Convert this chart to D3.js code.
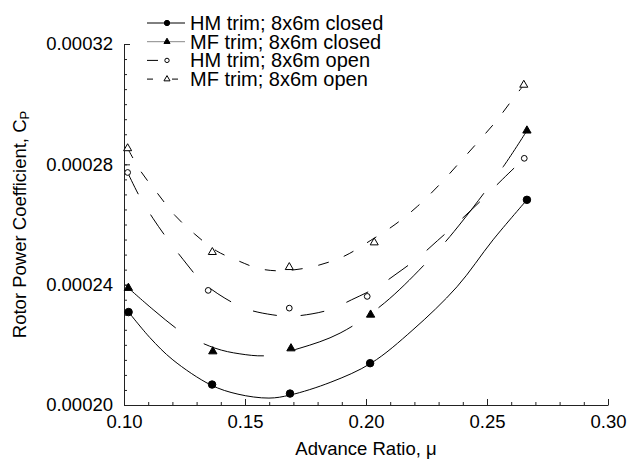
<!DOCTYPE html>
<html>
<head>
<meta charset="utf-8">
<title>Rotor power coefficient</title>
<script src="https://cdn.jsdelivr.net/npm/d3@7"></script>
<style>
    body { margin: 0; background: #fff; }
    svg text { font-family: "Liberation Sans", Arial, Helvetica, sans-serif; fill: #000; }
    .axis path, .axis line { stroke: #222; stroke-width: 1px; }
    .curve { fill: none; stroke: #000; stroke-width: 1px; }
</style>
</head>
<body>
<script>
// measured points (advance ratio, Cp)
var hmClosedMu = [0.1019, 0.1364, 0.1686, 0.2017, 0.2665];
var hmClosedCp = [0.0002309, 0.0002068, 0.0002038, 0.0002139, 0.0002682];
var mfClosedMu = [0.1018, 0.1367, 0.1690, 0.2019, 0.2665];
var mfClosedCp = [0.0002389, 0.0002178, 0.0002188, 0.0002300, 0.0002912];
var hmOpenMu = [0.1015, 0.1348, 0.1683, 0.2005, 0.2654];
var hmOpenCp = [0.0002773, 0.0002381, 0.0002322, 0.0002361, 0.0002820];
var mfOpenMu = [0.1015, 0.1365, 0.1683, 0.2034, 0.2652];
var mfOpenCp = [0.0002853, 0.0002508, 0.0002458, 0.0002540, 0.0003064];

// curve fits
var hmClosedFitMu = [0.1019, 0.1107, 0.1202, 0.1358, 0.1471, 0.1599, 0.1686, 0.1855, 0.2021, 0.2194, 0.2376, 0.2525, 0.2665];
var hmClosedFitCp = [0.0002309, 0.0002224, 0.0002150, 0.0002067, 0.0002036, 0.0002023, 0.0002033, 0.0002076, 0.0002139, 0.0002250, 0.0002393, 0.0002549, 0.0002682];
var mfClosedFitMu = [0.1018, 0.1128, 0.1245, 0.1376, 0.1479, 0.1590, 0.1727, 0.1893, 0.2076, 0.2292, 0.2402, 0.2567, 0.2665];
var mfClosedFitCp = [0.0002389, 0.0002312, 0.0002239, 0.0002189, 0.0002170, 0.0002164, 0.0002189, 0.0002239, 0.0002339, 0.0002510, 0.0002615, 0.0002792, 0.0002912];
var hmOpenFitMu = [0.1015, 0.1063, 0.1121, 0.1182, 0.1245, 0.1321, 0.1417, 0.1507, 0.1612, 0.1686, 0.1777, 0.1858, 0.1941, 0.2044, 0.2124, 0.2216, 0.2295, 0.2388, 0.2471, 0.2565, 0.2654];
var hmOpenFitCp = [0.0002773, 0.0002695, 0.0002619, 0.0002549, 0.0002483, 0.0002411, 0.0002355, 0.0002319, 0.0002300, 0.0002295, 0.0002303, 0.0002319, 0.0002350, 0.0002391, 0.0002435, 0.0002490, 0.0002546, 0.0002613, 0.0002676, 0.0002751, 0.0002820];
var mfOpenFitMu = [0.1015, 0.1070, 0.1138, 0.1211, 0.1291, 0.1383, 0.1479, 0.1555, 0.1636, 0.1719, 0.1810, 0.1913, 0.2017, 0.2120, 0.2212, 0.2303, 0.2381, 0.2460, 0.2536, 0.2602, 0.2652];
var mfOpenFitCp = [0.0002853, 0.0002776, 0.0002704, 0.0002630, 0.0002569, 0.0002512, 0.0002477, 0.0002454, 0.0002446, 0.0002451, 0.0002466, 0.0002496, 0.0002546, 0.0002600, 0.0002660, 0.0002732, 0.0002801, 0.0002872, 0.0002942, 0.0003012, 0.0003064];

var legendLabels = ["HM trim; 8x6m closed", "MF trim; 8x6m closed", "HM trim; 8x6m open", "MF trim; 8x6m open"];
var xTickValues = [0.10, 0.15, 0.20, 0.25, 0.30];
var yTickValues = [0.00020, 0.00024, 0.00028, 0.00032];

function zip(a, b) {
    return a.map(function (v, i) { return [v, b[i]]; });
}

var series = [
    {name: legendLabels[0], pts: zip(hmClosedMu, hmClosedCp), fit: zip(hmClosedFitMu, hmClosedFitCp),
        symbol: d3.symbolCircle, size: 44, legSize: 22, filled: true, dash: null, legDash: null, legColor: "#000"},
    {name: legendLabels[1], pts: zip(mfClosedMu, mfClosedCp), fit: zip(mfClosedFitMu, mfClosedFitCp),
        symbol: d3.symbolTriangle, size: 30, legSize: 16, filled: true, dash: "62,32", legDash: null, legColor: "#888"},
    {name: legendLabels[2], pts: zip(hmOpenMu, hmOpenCp), fit: zip(hmOpenFitMu, hmOpenFitCp),
        symbol: d3.symbolCircle, size: 26, legSize: 15, filled: false, dash: "24,24", legDash: "11,40", legColor: "#000"},
    {name: legendLabels[3], pts: zip(mfOpenMu, mfOpenCp), fit: zip(mfOpenFitMu, mfOpenFitCp),
        symbol: d3.symbolTriangle, size: 28, legSize: 16, filled: false, dash: "11,16", legDash: "6,19,6,20", legColor: "#000"}
];

var width = 632, height = 461;
var margin = {top: 44, right: 24, bottom: 56, left: 124};

var svg = d3.select("body").append("svg")
    .attr("width", width)
    .attr("height", height);

var x = d3.scaleLinear().domain([0.10, 0.30]).range([margin.left, width - margin.right]);
var y = d3.scaleLinear().domain([0.00020, 0.00032]).range([height - margin.bottom, margin.top]);

// minor ticks
svg.append("g")
    .attr("class", "axis")
    .attr("transform", "translate(0," + y(0.0002) + ")")
    .call(d3.axisBottom(x).ticks(20).tickSize(-3).tickFormat(""))
    .call(function (g) { g.select(".domain").remove(); });
svg.append("g")
    .attr("class", "axis")
    .attr("transform", "translate(" + x(0.1) + ",0)")
    .call(d3.axisLeft(y).ticks(24).tickSize(-3).tickFormat(""))
    .call(function (g) { g.select(".domain").remove(); });

// major ticks + labels
svg.append("g")
    .attr("class", "axis")
    .attr("transform", "translate(0," + y(0.0002) + ")")
    .call(d3.axisBottom(x).tickValues(xTickValues).tickSize(-6).tickSizeOuter(0).tickPadding(10).tickFormat(d3.format(".2f")))
    .call(function (g) { g.selectAll("text").style("font-size", "18.5px"); });
svg.append("g")
    .attr("class", "axis")
    .attr("transform", "translate(" + x(0.1) + ",0)")
    .call(d3.axisLeft(y).tickValues(yTickValues).tickSize(-6).tickSizeOuter(0).tickPadding(11).tickFormat(d3.format(".5f")))
    .call(function (g) { g.selectAll("text").style("font-size", "18.5px"); });

// axis titles
svg.append("text")
    .attr("x", (x(0.1) + x(0.3)) / 2)
    .attr("y", 455)
    .attr("text-anchor", "middle")
    .style("font-size", "18.5px")
    .text("Advance Ratio, \u03bc");

var yTitle = svg.append("text")
    .attr("transform", "translate(26," + ((y(0.0002) + y(0.00032)) / 2) + ") rotate(-90)")
    .attr("text-anchor", "middle")
    .style("font-size", "18.5px");
yTitle.append("tspan").text("Rotor Power Coefficient, C");
yTitle.append("tspan").attr("dy", "0.25em").style("font-size", "13px").text("P");

var line = d3.line()
    .x(function (d) { return x(d[0]); })
    .y(function (d) { return y(d[1]); })
    .curve(d3.curveCatmullRom.alpha(0.5));

series.forEach(function (s) {
    svg.append("path")
        .attr("class", "curve")
        .attr("d", line(s.fit))
        .attr("stroke-dasharray", s.dash);

    svg.selectAll(null)
        .data(s.pts)
        .enter().append("path")
        .attr("transform", function (d) { return "translate(" + x(d[0]) + "," + y(d[1]) + ")"; })
        .attr("d", d3.symbol().type(s.symbol).size(s.size))
        .attr("fill", s.filled ? "#000" : "#fff")
        .attr("stroke", "#000")
        .attr("stroke-width", 1);
});

// legend
var legend = svg.append("g").attr("transform", "translate(147,23)");
var rows = legend.selectAll("g")
    .data(series)
    .enter().append("g")
    .attr("transform", function (d, i) { return "translate(0," + (i * 18.7) + ")"; });
rows.append("line")
    .attr("x1", 0).attr("x2", 38)
    .attr("stroke", function (d) { return d.legColor; })
    .attr("stroke-dasharray", function (d) { return d.legDash; });
rows.append("path")
    .attr("transform", "translate(20,0)")
    .attr("d", function (d) { return d3.symbol().type(d.symbol).size(d.legSize)(); })
    .attr("fill", function (d) { return d.filled ? "#000" : "#fff"; })
    .attr("stroke", "#000");
rows.append("text")
    .attr("x", 43)
    .attr("dy", "0.35em")
    .style("font-size", "20px")
    .text(function (d) { return d.name; });
</script>
</body>
</html>
